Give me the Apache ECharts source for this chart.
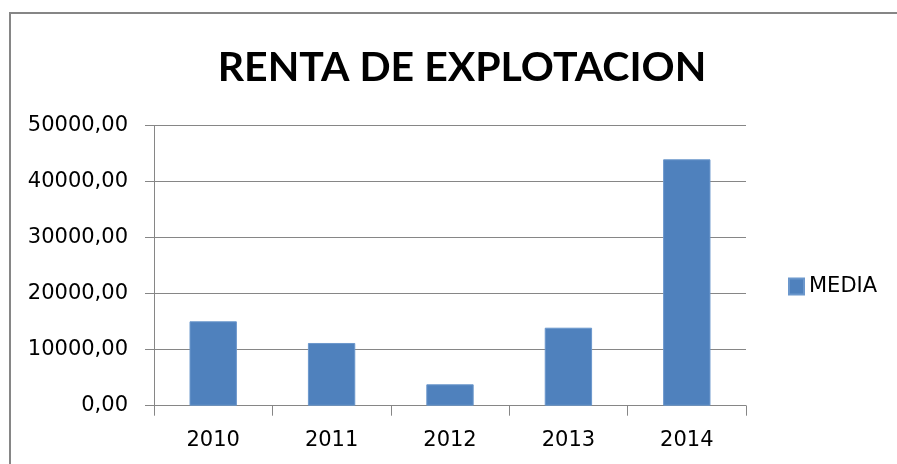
<!DOCTYPE html>
<html><head><meta charset="utf-8">
<script src="https://cdn.jsdelivr.net/npm/echarts@6/dist/echarts.min.js"></script>
<style>html,body{margin:0;padding:0;background:#fff}#c{width:897px;height:464px}</style>
</head><body><div id="c"></div>
<script>
const categories = ['2010', '2011', '2012', '2013', '2014'];
const mediaValues = [15070, 11200, 3820, 13930, 44000];
const seriesName = 'MEDIA';
const titleText = 'RENTA DE EXPLOTACION';

const chart = echarts.init(document.getElementById('c'));
chart.setOption({
  animation: false,
  backgroundColor: '#fff',
  graphic: [{
    type: 'rect', silent: true,
    shape: { x: 10, y: 13, width: 1000, height: 600 },
    style: { fill: 'none', stroke: '#868686', lineWidth: 2 }
  }],
  title: {
    text: titleText, left: 457, top: 42, textAlign: 'center',
    textStyle: { fontFamily: 'Lato', fontWeight: 'bold', fontSize: 41, color: '#000' }
  },
  legend: {
    data: [seriesName], left: 783, top: 271, orient: 'vertical',
    itemWidth: 15, itemHeight: 16, itemGap: 6,
    textStyle: { fontFamily: 'DejaVu Sans', fontSize: 21, color: '#000', padding: [0, 0, 0, 0] },
    icon: 'rect'
  },
  grid: { left: 154, right: 151, top: 125.7, bottom: 58.3, containLabel: false },
  xAxis: {
    type: 'category', data: categories,
    axisLine: { lineStyle: { color: '#868686', width: 1 } },
    axisTick: { show: true, length: 10, alignWithLabel: false, lineStyle: { color: '#868686' } },
    axisLabel: { fontFamily: 'DejaVu Sans', fontSize: 21, color: '#000', margin: 24 }
  },
  yAxis: {
    type: 'value', min: 0, max: 50000, interval: 10000,
    axisLine: { show: true, lineStyle: { color: '#868686', width: 1 } },
    axisTick: { show: true, length: 9, lineStyle: { color: '#868686' } },
    splitLine: { lineStyle: { color: '#868686', width: 1 } },
    axisLabel: {
      fontFamily: 'DejaVu Sans', fontSize: 21, color: '#000', margin: 26,
      formatter: v => v.toFixed(2).replace('.', ',')
    }
  },
  series: [{
    name: seriesName, type: 'bar', data: mediaValues, barWidth: '40%',
    itemStyle: { color: '#4F81BD', borderColor: '#6B97CC', borderWidth: 1 }
  }]
});
</script></body></html>
